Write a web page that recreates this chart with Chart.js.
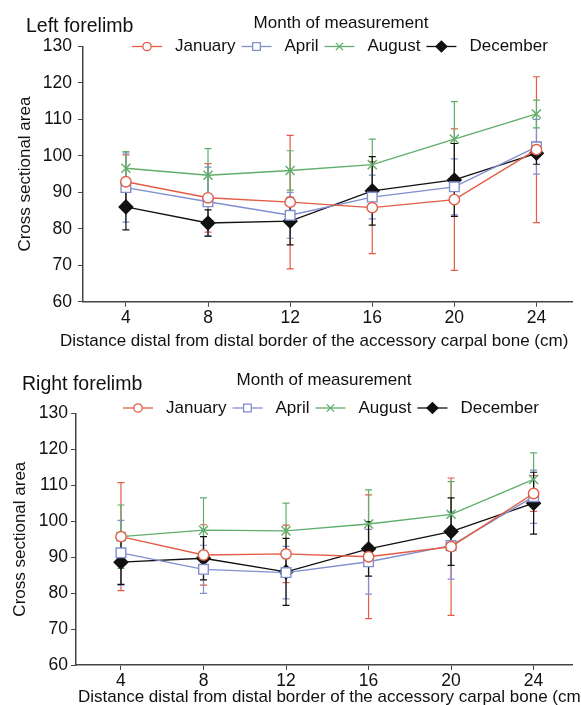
<!DOCTYPE html>
<html>
<head>
<meta charset="utf-8">
<title>Cross sectional area by distance</title>
<script src="https://cdn.jsdelivr.net/npm/chart.js@4.4.1/dist/chart.umd.min.js"></script>
<style>
    body { margin: 0; background: #fff; width: 581px; height: 705px; overflow: hidden; position: relative; }
    .panel { position: absolute; left: 0; width: 581px; }
    #left-panel { top: 0; height: 360px; }
    #right-panel { top: 360px; height: 345px; }
</style>
</head>
<body>
<div class="panel" id="left-panel"><canvas id="leftChart" width="581" height="360"></canvas></div>
<div class="panel" id="right-panel"><canvas id="rightChart" width="581" height="345"></canvas></div>
<script>
// Data (mean and SD per month)
const distances = [4, 8, 12, 16, 20, 24];
const months = ['January', 'April', 'August', 'December'];
const legendHeading = 'Month of measurement';
const xAxisTitle = 'Distance distal from distal border of the accessory carpal bone (cm)';
const yAxisTitle = 'Cross sectional area';

// Left forelimb
const leftJanuary = [92.9, 88.5, 87.3, 85.8, 88.0, 101.7];
const leftJanuarySd = [7.4, 9.4, 18.3, 12.6, 19.4, 20.0];
const leftApril = [91.3, 87.4, 83.7, 88.7, 91.5, 102.5];
const leftAprilSd = [9.5, 9.5, 6.3, 6.0, 7.7, 7.5];
const leftAugust = [96.6, 94.7, 96.0, 97.6, 104.6, 111.5];
const leftAugustSd = [4.6, 7.3, 5.4, 7.0, 10.3, 3.8];
const leftDecember = [86.0, 81.6, 82.1, 90.4, 93.4, 100.7];
const leftDecemberSd = [6.3, 3.6, 6.5, 9.4, 10.0, 3.0];

// Right forelimb
const rightJanuary = [95.7, 90.6, 90.9, 90.1, 92.9, 107.7];
const rightJanuarySd = [15.0, 8.4, 8.0, 17.2, 19.1, 5.0];
const rightApril = [91.2, 86.6, 85.7, 88.7, 93.2, 106.8];
const rightAprilSd = [9.0, 6.7, 7.3, 9.0, 9.3, 7.4];
const rightAugust = [95.7, 97.5, 97.3, 99.2, 101.9, 111.6];
const rightAugustSd = [8.8, 9.0, 7.7, 9.5, 9.1, 7.4];
const rightDecember = [88.6, 89.7, 85.9, 92.3, 97.1, 105.0];
const rightDecemberSd = [6.2, 6.0, 9.3, 7.6, 9.4, 8.6];

const fontFamily = '"Liberation Sans", Arial, Helvetica, sans-serif';
const textColor = '#111';
const axisColor = '#444';

Chart.defaults.font.family = fontFamily;
Chart.defaults.color = textColor;

const monthStyles = [
    { color: '#e45c45', pointStyle: 'circle', radius: 5.2, fill: '#ffffff' },
    { color: '#7f8fcf', pointStyle: 'rect', radius: 6.8, fill: '#ffffff' },
    { color: '#5fae6b', pointStyle: 'crossRot', radius: 6.4, fill: '#5fae6b' },
    { color: '#111111', pointStyle: 'rectRot', radius: 6.8, fill: '#111111' }
];

function makeDataset(index, means, sds) {
    const s = monthStyles[index];
    return {
        label: months[index],
        data: distances.map((d, i) => ({ x: d, y: means[i] })),
        sd: sds,
        borderColor: s.color,
        backgroundColor: s.fill,
        borderWidth: 1.4,
        pointStyle: s.pointStyle,
        pointRadius: s.radius,
        pointBackgroundColor: s.fill,
        pointBorderColor: s.color,
        pointBorderWidth: 1.4,
        tension: 0
    };
}

// Mean ± SD bars, drawn under the markers
const errorBars = {
    id: 'errorBars',
    beforeDatasetsDraw(chart) {
        const { ctx, scales: { x, y } } = chart;
        ctx.save();
        chart.data.datasets.forEach(ds => {
            ctx.strokeStyle = ds.borderColor;
            ctx.lineWidth = 1.2;
            ds.data.forEach((p, i) => {
                const px = x.getPixelForValue(p.x);
                const top = y.getPixelForValue(p.y + ds.sd[i]);
                const bottom = y.getPixelForValue(p.y - ds.sd[i]);
                ctx.beginPath();
                ctx.moveTo(px, top);
                ctx.lineTo(px, bottom);
                ctx.moveTo(px - 3.5, top);
                ctx.lineTo(px + 3.5, top);
                ctx.moveTo(px - 3.5, bottom);
                ctx.lineTo(px + 3.5, bottom);
                ctx.stroke();
            });
        });
        ctx.restore();
    }
};

// Panel title, legend heading, line+marker legend and x axis title
const figureText = {
    id: 'figureText',
    afterDraw(chart, args, o) {
        const ctx = chart.ctx;
        ctx.save();
        ctx.fillStyle = textColor;
        ctx.textBaseline = 'middle';

        ctx.font = '19.5px ' + fontFamily;
        ctx.textAlign = 'left';
        ctx.fillText(o.title, o.titleX, o.titleY);

        ctx.font = '17px ' + fontFamily;
        ctx.textAlign = 'center';
        ctx.fillText(legendHeading, o.headingX, o.headingY);

        ctx.textAlign = 'left';
        ctx.fillText(xAxisTitle, o.xTitleX, o.xTitleY);

        let lx = o.legendX;
        const ly = o.legendY;
        chart.data.datasets.forEach(ds => {
            ctx.strokeStyle = ds.borderColor;
            ctx.lineWidth = 1.3;
            ctx.beginPath();
            ctx.moveTo(lx, ly);
            ctx.lineTo(lx + 30, ly);
            ctx.stroke();
            ctx.fillStyle = ds.pointBackgroundColor;
            Chart.helpers.drawPoint(ctx, {
                pointStyle: ds.pointStyle,
                radius: ds.pointRadius * 0.8,
                borderWidth: 1.3,
                rotation: 0
            }, lx + 15, ly);
            ctx.fillStyle = textColor;
            ctx.fillText(ds.label, lx + 43, ly);
            lx += 43 + ctx.measureText(ds.label).width + 6;
        });
        ctx.restore();
    }
};

function makeChart(canvasId, datasets, layout) {
    const ctx = document.getElementById(canvasId).getContext('2d');
    return new Chart(ctx, {
        type: 'line',
        data: { datasets },
        plugins: [errorBars, figureText],
        options: {
            responsive: false,
            animation: false,
            events: [],
            layout: { padding: { top: layout.plotTop, left: 0, right: 0, bottom: 0 } },
            plugins: {
                legend: { display: false },
                title: { display: false },
                tooltip: { enabled: false },
                figureText: layout.text
            },
            scales: {
                x: {
                    type: 'linear',
                    min: layout.xMin,
                    max: layout.xMax,
                    afterBuildTicks: scale => { scale.ticks = distances.map(v => ({ value: v })); },
                    afterFit: scale => { scale.height = layout.xHeight; },
                    border: { color: axisColor, width: 1.5 },
                    grid: { drawOnChartArea: false, drawTicks: true, tickLength: 5, color: axisColor },
                    ticks: { color: textColor, font: { size: 17.5 }, padding: 1, maxRotation: 0, autoSkip: false }
                },
                y: {
                    min: 60,
                    max: 130,
                    afterFit: scale => { scale.width = layout.yWidth; },
                    border: { color: axisColor, width: 1.5 },
                    grid: { drawOnChartArea: false, drawTicks: true, tickLength: 5, color: axisColor },
                    ticks: {
                        stepSize: 5,
                        color: textColor,
                        font: { size: 17.5 },
                        padding: layout.yTickPadding,
                        callback: v => (v % 10 === 0 ? v : '')
                    },
                    title: {
                        display: true,
                        text: yAxisTitle,
                        color: textColor,
                        font: { size: 17 },
                        padding: { top: layout.yTitlePad, bottom: 0 }
                    }
                }
            }
        }
    });
}

makeChart('leftChart', [
    makeDataset(0, leftJanuary, leftJanuarySd),
    makeDataset(1, leftApril, leftAprilSd),
    makeDataset(2, leftAugust, leftAugustSd),
    makeDataset(3, leftDecember, leftDecemberSd)
], {
    plotTop: 46.5, xHeight: 58.3, yWidth: 83, xMin: 1.91, xMax: 25.77,
    yTickPadding: 6, yTitlePad: 14.8,
    text: {
        title: 'Left forelimb', titleX: 26, titleY: 27,
        headingX: 341, headingY: 23,
        legendX: 132, legendY: 46.5,
        xTitleX: 60, xTitleY: 341.7
    }
});

makeChart('rightChart', [
    makeDataset(0, rightJanuary, rightJanuarySd),
    makeDataset(1, rightApril, rightAprilSd),
    makeDataset(2, rightAugust, rightAugustSd),
    makeDataset(3, rightDecember, rightDecemberSd)
], {
    plotTop: 53.3, xHeight: 40, yWidth: 76, xMin: 1.82, xMax: 25.9,
    yTickPadding: 3, yTitlePad: 10,
    text: {
        title: 'Right forelimb', titleX: 22, titleY: 25,
        headingX: 324, headingY: 20,
        legendX: 123, legendY: 48,
        xTitleX: 78, xTitleY: 337
    }
});
</script>
</body>
</html>
